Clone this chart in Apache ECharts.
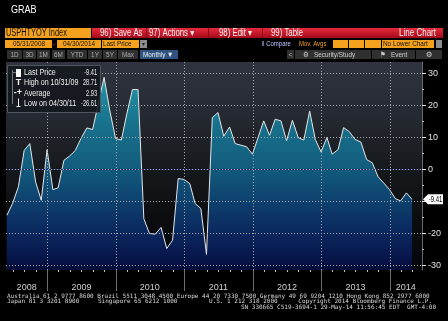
<!DOCTYPE html>
<html><head><meta charset="utf-8">
<script src="https://cdn.jsdelivr.net/npm/echarts@6/dist/echarts.min.js"></script>
<style>html,body{margin:0;padding:0;background:#000;}#c{width:448px;height:321px;}</style>
</head><body><div id="c"></div>
<script>
// ---- data ----
const dates = [
'2008-05-31','2008-06-30','2008-07-31','2008-08-31','2008-09-30','2008-10-31','2008-11-30','2008-12-31',
'2009-01-31','2009-02-28','2009-03-31','2009-04-30','2009-05-31','2009-06-30','2009-07-31','2009-08-31','2009-09-30','2009-10-31','2009-11-30','2009-12-31',
'2010-01-31','2010-02-28','2010-03-31','2010-04-30','2010-05-31','2010-06-30','2010-07-31','2010-08-31','2010-09-30','2010-10-31','2010-11-30','2010-12-31',
'2011-01-31','2011-02-28','2011-03-31','2011-04-30','2011-05-31','2011-06-30','2011-07-31','2011-08-31','2011-09-30','2011-10-31','2011-11-30','2011-12-31',
'2012-01-31','2012-02-29','2012-03-31','2012-04-30','2012-05-31','2012-06-30','2012-07-31','2012-08-31','2012-09-30','2012-10-31','2012-11-30','2012-12-31',
'2013-01-31','2013-02-28','2013-03-31','2013-04-30','2013-05-31','2013-06-30','2013-07-31','2013-08-31','2013-09-30','2013-10-31','2013-11-30','2013-12-31',
'2014-01-31','2014-02-28','2014-03-31','2014-04-30'];
const values = [
-14.4,-10.7,-5.5,5.9,8.0,-4.0,-9.7,6.1,-6.4,-5.8,
2.8,4.1,5.9,9.6,12.9,12.4,20.5,28.71,18.5,9.6,
9.1,17.0,24.9,24.9,-15.5,-20.1,-20.3,-18.2,-24.8,-22.2,
-2.9,-3.2,-4.5,-10.7,-12.3,-26.61,16.1,17.7,10.3,13.2,
8.0,7.5,7.0,4.7,10.1,15.1,10.6,15.6,15.1,8.9,
15.3,9.9,9.1,18.2,9.3,5.4,9.9,4.7,6.1,13.0,
11.7,9.3,8.5,3.0,2.0,-2.4,-4.3,-6.4,-9.2,-9.9,
-7.4,-9.41];
const yearStarts = ['2009-01-01','2010-01-01','2011-01-01','2012-01-01','2013-01-01','2014-01-01'];
const yearLabelAt = ['2008-09-13','2009-07-02','2010-07-02','2011-07-02','2012-07-02','2013-07-02','2014-03-27'];
const minorTickDates = ['2008-07-01','2008-09-01','2008-11-01',
'2009-03-01','2009-05-01','2009-07-01','2009-09-01','2009-11-01',
'2010-03-01','2010-05-01','2010-07-01','2010-09-01','2010-11-01',
'2011-03-01','2011-05-01','2011-07-01','2011-09-01','2011-11-01',
'2012-03-01','2012-05-01','2012-07-01','2012-09-01','2012-11-01',
'2013-03-01','2013-05-01','2013-07-01','2013-09-01','2013-11-01',
'2014-03-01','2014-05-01'];
const yMajor = [-30,-20,-10,0,10,20,30];
const yMinor = [-25,-15,-5,5,15,25];
const legendRows = [
  ['Last Price','-9.41'],
  ['High on 10/31/09','28.71'],
  ['Average','2.93'],
  ['Low on 04/30/11','-26.61']
];

function ts(s){ const p=s.split('-'); return new Date(+p[0], +p[1]-1, +p[2]).getTime(); }
const FF = '"Liberation Sans", "DejaVu Sans", sans-serif';
const MONO = '"DejaVu Sans Mono", "Liberation Mono", monospace';

const chart = echarts.init(document.getElementById('c'), null, {renderer:'canvas'});
const xMin = ts('2008-05-26'), xMax = ts('2014-06-22');

function txt(x,y,s,fill,size,align,sx,family,weight){
  return {type:'text', x:x, y:y, scaleX:sx||1, silent:true, z:120,
    style:{text:s, fill:fill, font:(weight||'normal')+' '+size+'px '+(family||FF), textAlign:align||'left', textVerticalAlign:'middle'}};
}
function rect(x,y,w,h,fill,stroke){
  return {type:'rect', shape:{x:x,y:y,width:w,height:h}, silent:true, z:90, style:{fill:fill, stroke:stroke||null, lineWidth:1}};
}
function line(x1,y1,x2,y2,stroke,w,dash,z){
  return {type:'line', shape:{x1:x1,y1:y1,x2:x2,y2:y2}, silent:true, z:z||100, style:{stroke:stroke, lineWidth:w||1, lineDash:dash||null}};
}

const ORANGE = '#f4a11e';
const G = [];
G.push(txt(11,10.5,'GRAB','#ffffff',10,'left',0.9));
G.push(rect(5,28,86,10,ORANGE));
G.push(txt(6,33.5,'USPHTYOY Index','#111',10,'left',0.74));
G.push({type:'rect', shape:{x:92,y:28,width:351,height:10}, silent:true, z:90,
  style:{fill:{type:'linear',x:0,y:0,x2:0,y2:1,colorStops:[{offset:0,color:'#e62a3c'},{offset:1,color:'#a30a1a'}]}}});
G.push(txt(100,33.5,'96) Save As','#f4f4f4',10,'left',0.78));
G.push(line(146.5,28,146.5,38,'#8a0a16'));
G.push(txt(149,33.5,'97) Actions \u25BE','#f4f4f4',10,'left',0.78));
G.push(line(208.5,28,208.5,38,'#8a0a16'));
G.push(txt(219,33.5,'98) Edit \u25BE','#f4f4f4',10,'left',0.78));
G.push(line(262.5,28,262.5,38,'#8a0a16'));
G.push(txt(271,33.5,'99) Table','#f4f4f4',10,'left',0.78));
G.push(txt(436,33.5,'Line Chart','#f4f4f4',10,'right',0.8));
// row 2
G.push(rect(5,40,47,8,ORANGE));
G.push(txt(13,44.2,'05/31/2008','#111',8,'left',0.8));
G.push(txt(54,44,'-','#e03030',8,'center'));
G.push(rect(57,40,44,8,ORANGE));
G.push(txt(63,44.2,'04/30/2014','#111',8,'left',0.8));
G.push(rect(102,40,37,8,ORANGE));
G.push(txt(103,44.2,'Last Price','#111',8,'left',0.8));
G.push(rect(140,40,7,8,'#8c8c8c'));
G.push(txt(143.5,44.2,'\u25BE','#222',6,'center'));
G.push(txt(262,44.2,'\u2016 Compare','#b8c8ff',7.5,'left',0.8));
G.push(txt(299,44.2,'Mov. Avgs','#f4a11e',7.5,'left',0.8));
G.push(rect(333,40,15,8,ORANGE)); G.push(rect(349,40,15,8,ORANGE)); G.push(rect(365,40,16,8,ORANGE));
G.push(rect(382,40,52,8,ORANGE));
G.push(txt(383,44.2,'No Lower Chart','#111',8,'left',0.8));
G.push(rect(436,40,6,8,'#8c8c8c'));
// row 3
const btns = [[7,15,'1D'],[23,13,'3D'],[37,13,'1M'],[52,13,'6M'],[67,20,'YTD'],[88,14,'1Y'],[103,14,'5Y'],[118,20,'Max']];
btns.forEach(b=>{ G.push(rect(b[0],50,b[1],9,'#303030')); G.push(txt(b[0]+b[1]/2,54.8,b[2],'#b0b0b0',7.5,'center',0.85)); });
G.push(rect(140,50,38,9,'#2f5380'));
G.push(txt(143,54.8,'Monthly \u25BC','#f0f0f0',7.5,'left',0.85));
G.push(rect(287,50,7,9,'#303030')); G.push(txt(290.5,54.8,'<','#aaa',7,'center'));
G.push(rect(295,50,76,9,'#303030')); G.push(txt(303,54.8,'\u2699   Security/Study','#d0d0d0',7.5,'left',0.85));
G.push(rect(372,50,43,9,'#303030')); G.push(txt(380,54.8,'\u2691   Event','#d0d0d0',7.5,'left',0.85));
G.push(rect(416,50,26,9,'#303030')); G.push(txt(429,54.8,'\u2699','#d0d0d0',7.5,'center'));
// legend
G.push({type:'rect', shape:{x:7.5,y:65.5,width:93,height:47}, silent:true, z:95, style:{fill:'rgba(20,24,30,0.9)', stroke:'#50555d', lineWidth:1}});
G.push(line(12.5,70,12.5,104,'#7a7a7a'));
G.push(line(12.5,72.5,16,72.5,'#7a7a7a'));
const wr = rect(16,69,5,8,'#ffffff'); wr.z=100; G.push(wr);
G.push(txt(18.5,82.5,'T','#f0f0f0',9,'center',1,FF,'bold'));
G.push(txt(18,93,'-+','#f0f0f0',9,'center',1,FF,'bold'));
G.push(line(18.5,98.5,18.5,107,'#f0f0f0'));
G.push(line(16.5,106.5,20.5,106.5,'#f0f0f0'));
const rowY = [72.8,82.8,93.3,103.3];
legendRows.forEach((r,i)=>{ G.push(txt(24,rowY[i],r[0],'#ececec',8.5,'left',0.84)); G.push(txt(97,rowY[i],r[1],'#ececec',8.5,'right',0.66)); });
// footer
G.push(txt(7,296,'Australia 61 2 9777 8600 Brazil 5511 3048 4500 Europe 44 20 7330 7500 Germany 49 69 9204 1210 Hong Kong 852 2977 6000','#d8d8d8',6,'left',1,MONO));
G.push(txt(7,301.5,'Japan 81 3 3201 8900','#d8d8d8',6,'left',1,MONO));
G.push(txt(98,301.5,'Singapore 65 6212 1000','#d8d8d8',6,'left',1,MONO));
G.push(txt(209,301.5,'U.S. 1 212 318 2000','#d8d8d8',6,'left',1,MONO));
G.push(txt(432,301.5,'Copyright 2014 Bloomberg Finance L.P.','#d8d8d8',6,'right',1,MONO));
G.push(txt(436,307.5,'SN 330665 C519-3694-1 29-May-14 11:56:45 EDT  GMT-4:00','#d8d8d8',6,'right',1,MONO));

const option = {
  backgroundColor:'#000',
  animation:false,
  grid:{left:6, right:26, top:62, bottom:51, show:true, borderWidth:0,
    backgroundColor:{type:'linear',x:0,y:0,x2:0,y2:1,colorStops:[
      {offset:0,color:'#2f3440'},{offset:0.3,color:'#23272e'},{offset:0.5,color:'#16191d'},{offset:0.75,color:'#0c0d10'},{offset:1,color:'#05060c'}]}},
  xAxis:[{
    type:'value', min:xMin, max:xMax, position:'bottom', scale:true, z:10,
    axisLine:{show:true, lineStyle:{color:'#24306a', width:1}},
    axisTick:{show:false},
    axisLabel:{customValues:yearLabelAt.map(ts), formatter:v=>String(new Date(v).getFullYear()), color:'#d0d0d0', fontSize:9, fontFamily:FF, margin:13},
    splitLine:{show:false}
  }],
  yAxis:[{
    type:'value', position:'right', min:-31.5, max:33.5, z:10,
    axisLine:{show:true, lineStyle:{color:'#6a6a6a'}},
    axisTick:{show:true, customValues:yMajor, length:4, lineStyle:{color:'#e0e0e0'}},
    axisLabel:{customValues:yMajor, color:'#e0e0e0', fontSize:9, fontFamily:FF, margin:6},
    splitLine:{show:false}
  },{
    type:'value', position:'right', min:-31.5, max:33.5, z:10,
    axisLine:{show:false},
    axisTick:{show:true, customValues:yMinor, length:2, lineStyle:{color:'#bbbbbb'}},
    axisLabel:{show:false}, splitLine:{show:false}
  }],
  series:[{
    type:'line', xAxisIndex:0, yAxisIndex:0,
    data:dates.map((d,i)=>[ts(d), values[i]]),
    showSymbol:false, symbol:'none',
    lineStyle:{color:'#e6e6e6', width:1},
    areaStyle:{origin:'start', opacity:1, color:{type:'linear', global:true, x:0, y:62, x2:0, y2:270, colorStops:[
      {offset:0,color:'#2aa6b6'},{offset:0.15,color:'#1f8aa0'},{offset:0.3,color:'#18718c'},{offset:0.5,color:'#135d7e'},
      {offset:0.65,color:'#0e4470'},{offset:0.8,color:'#0b2b60'},{offset:0.93,color:'#08184e'},{offset:1,color:'#050c38'}]}},
    z:2
  }],
  graphic:{elements:G}
};
chart.setOption(option);

// grid lines, separators and ticks positioned through the chart's own axes
const gx0 = 6, gx1 = 422, gy0 = 62, gy1 = 270;
yMajor.forEach(v=>{
  const y = Math.round(chart.convertToPixel({yAxisIndex:0}, v)) + 0.5;
  G.push(line(gx0, y, gx1, y, '#a8a8a8', 1, [1,2], 50));
});
yearStarts.forEach(d=>{
  const x = Math.round(chart.convertToPixel({xAxisIndex:0}, ts(d))) + 0.5;
  G.push(line(x, gy0, x, gy1, '#a8a8a8', 1, [1,2], 50));
  G.push(line(x, gy1, x, 291, '#6e6e6e', 1, null, 50));
});
minorTickDates.forEach(d=>{
  const x = Math.round(chart.convertToPixel({xAxisIndex:0}, ts(d))) + 0.5;
  if (x < gx1) G.push(line(x, gy1, x, gy1+2, '#c0c0c0', 1, null, 50));
});
const lastVal = values[values.length-1];
const py = chart.convertToPixel({yAxisIndex:0}, lastVal);
G.push({type:'polygon', silent:true, z:110, shape:{points:[[423,py],[428,py-5],[443,py-5],[443,py+5],[428,py+5]]}, style:{fill:'#ffffff'}});
G.push(txt(435.5,py+0.5,lastVal.toFixed(2),'#000',8.5,'center',0.7));
chart.setOption({graphic:{elements:G}}, {replaceMerge:['graphic']});
</script></body></html>
